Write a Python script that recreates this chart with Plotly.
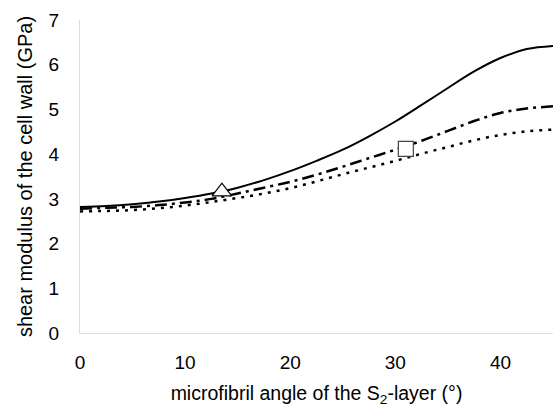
import plotly.graph_objects as go

angle = [0, 2.5, 5, 7.5, 10, 12.5, 15, 17.5, 20, 22.5, 25, 27.5, 30, 32.5, 35, 37.5, 40, 42.5, 45]
solid_vals = [2.82, 2.84, 2.88, 2.94, 3.02, 3.12, 3.25, 3.42, 3.62, 3.85, 4.1, 4.4, 4.73,
              5.1, 5.48, 5.85, 6.15, 6.35, 6.42]
dashdot_vals = [2.78, 2.8, 2.82, 2.86, 2.92, 3.0, 3.12, 3.25, 3.38, 3.54, 3.72, 3.91, 4.1,
                4.3, 4.52, 4.74, 4.92, 5.02, 5.07]
dotted_vals = [2.72, 2.73, 2.75, 2.79, 2.85, 2.93, 3.02, 3.12, 3.24, 3.39, 3.55, 3.7, 3.85,
               4.01, 4.16, 4.31, 4.43, 4.51, 4.55]
tri_x, tri_y = [13.5], [3.16]
sq_x, sq_y = [31.0], [4.12]
x_ticks = [0, 10, 20, 30, 40]
y_ticks = [0, 1, 2, 3, 4, 5, 6, 7]

FONT = "Liberation Sans, Arial, sans-serif"

fig = go.Figure()
fig.add_trace(go.Scatter(x=angle, y=solid_vals, mode="lines",
                         line=dict(color="black", width=2, shape="spline", smoothing=1)))
fig.add_trace(go.Scatter(x=angle, y=dashdot_vals, mode="lines",
                         line=dict(color="black", width=2.5, shape="spline", smoothing=1,
                                   dash="12px,5px,3px,5px")))
fig.add_trace(go.Scatter(x=angle, y=dotted_vals, mode="lines",
                         line=dict(color="black", width=2.5, shape="spline", smoothing=1,
                                   dash="3px,6px")))
fig.add_trace(go.Scatter(x=tri_x, y=tri_y, mode="markers",
                         marker=dict(symbol="triangle-up", size=17, color="white",
                                     line=dict(color="black", width=1.2))))
fig.add_trace(go.Scatter(x=sq_x, y=sq_y, mode="markers",
                         marker=dict(symbol="square", size=15, color="white",
                                     line=dict(color="#444", width=1.2))))

fig.update_layout(
    width=555, height=407,
    margin=dict(l=80, r=2, t=20, b=74),
    paper_bgcolor="white", plot_bgcolor="white",
    showlegend=False,
    font=dict(family=FONT, size=19, color="black"),
    xaxis=dict(range=[0, 45], tickvals=x_ticks, showgrid=False, zeroline=False,
               showline=True, linecolor="#dddddd", linewidth=1,
               ticks="", ticklabelstandoff=12, tickfont=dict(size=19),
               title=dict(text="microfibril angle of the S<sub>2</sub>-layer (°)",
                          font=dict(size=19.5), standoff=16)),
    yaxis=dict(range=[0, 7], tickvals=y_ticks, showgrid=False, zeroline=False,
               showline=True, linecolor="#dddddd", linewidth=1,
               ticks="", ticklabelstandoff=16, tickfont=dict(size=19),
               title=dict(text="shear modulus of the cell wall (GPa)",
                          font=dict(size=20), standoff=10)),
)

fig.write_html("out.html")
